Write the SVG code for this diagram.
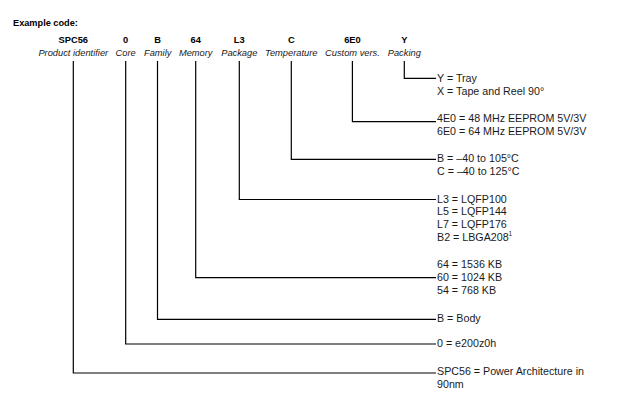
<svg xmlns="http://www.w3.org/2000/svg" width="623" height="394" viewBox="0 0 623 394">
<style>
.t{font-family:"Liberation Sans",Arial,sans-serif;font-size:10.7px;fill:#1a1a1a}
.h{font-family:"Liberation Sans",Arial,sans-serif;font-size:9.2px;font-weight:bold;fill:#000}
.c{font-family:"Liberation Sans",Arial,sans-serif;font-size:9.3px;font-weight:bold;fill:#000;text-anchor:middle}
.l{font-family:"Liberation Sans",Arial,sans-serif;font-size:9.3px;font-style:italic;fill:#1a1a1a;text-anchor:middle}
.w{fill:none;stroke:#000;stroke-width:1.2}
</style>
<rect width="623" height="394" fill="#fff"/>
<text class="h" x="13" y="26">Example code:</text>
<g id="header">
<text class="c" x="73.3" y="43.3">SPC56</text>
<text class="l" x="73.3" y="56.3">Product identifier</text>
<text class="c" x="125.7" y="43.3">0</text>
<text class="l" x="125.7" y="56.3">Core</text>
<text class="c" x="157.7" y="43.3">B</text>
<text class="l" x="157.7" y="56.3">Family</text>
<text class="c" x="195.7" y="43.3">64</text>
<text class="l" x="195.7" y="56.3">Memory</text>
<text class="c" x="239.3" y="43.3">L3</text>
<text class="l" x="239.3" y="56.3">Package</text>
<text class="c" x="291.3" y="43.3">C</text>
<text class="l" x="291.3" y="56.3">Temperature</text>
<text class="c" x="352.4" y="43.3">6E0</text>
<text class="l" x="352.4" y="56.3">Custom vers.</text>
<text class="c" x="404.3" y="43.3">Y</text>
<text class="l" x="404.3" y="56.3">Packing</text>
</g>
<g id="connectors">
<polyline class="w" points="404.3,61 404.3,78.3 436,78.3"/>
<polyline class="w" points="352.4,61 352.4,121.7 436,121.7"/>
<polyline class="w" points="291.3,61 291.3,159.3 436,159.3"/>
<polyline class="w" points="239.3,61 239.3,199.5 436,199.5"/>
<polyline class="w" points="195.7,61 195.7,277.7 436,277.7"/>
<polyline class="w" points="157.5,61 157.5,319.3 436,319.3"/>
<polyline class="w" points="125.7,61 125.7,344 436,344"/>
<polyline class="w" points="73.3,61 73.3,373 436,373"/>
</g>
<g id="packing">
<text class="t" x="437" y="82">Y = Tray</text>
<text class="t" x="437" y="95">X = Tape and Reel 90°</text>
</g>
<g id="custom">
<text class="t" x="437" y="122.4">4E0 = 48 MHz EEPROM 5V/3V</text>
<text class="t" x="437" y="135.3">6E0 = 64 MHz EEPROM 5V/3V</text>
</g>
<g id="temperature">
<text class="t" x="437" y="161.8">B = –40 to 105°C</text>
<text class="t" x="437" y="174.8">C = –40 to 125°C</text>
</g>
<g id="package">
<text class="t" x="437" y="202.6">L3 = LQFP100</text>
<text class="t" x="437" y="215.2">L5 = LQFP144</text>
<text class="t" x="437" y="227.8">L7 = LQFP176</text>
<text class="t" x="437" y="240.6">B2 = LBGA208<tspan font-size="6.5" dy="-4.5">1</tspan></text>
</g>
<g id="memory">
<text class="t" x="437" y="268.3">64 = 1536 KB</text>
<text class="t" x="437" y="281.1">60 = 1024 KB</text>
<text class="t" x="437" y="294">54 = 768 KB</text>
</g>
<g id="family">
<text class="t" x="437" y="322.3">B = Body</text>
</g>
<g id="core">
<text class="t" x="437" y="347.2">0 = e200z0h</text>
</g>
<g id="product">
<text class="t" x="437" y="375.4">SPC56 = Power Architecture in</text>
<text class="t" x="437" y="388.4">90nm</text>
</g>
</svg>
